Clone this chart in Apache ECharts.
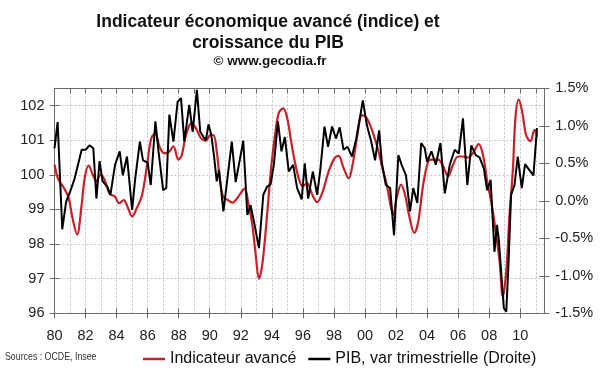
<!DOCTYPE html>
<html><head><meta charset="utf-8">
<script src="https://cdn.jsdelivr.net/npm/echarts@6/dist/echarts.min.js"></script>
<style>html,body{margin:0;padding:0;background:#fff}#c{width:600px;height:372px}</style>
</head><body><div id="c"></div>
<script>
// ---- data ----
const redYears = [1980.0,1980.25,1980.57,1980.9,1981.16,1981.46,1981.74,1981.96,1982.2,1982.45,1982.7,1982.96,1983.2,1983.56,1983.88,1984.16,1984.46,1984.73,1985.0,1985.3,1985.64,1985.95,1986.23,1986.5,1986.76,1987.08,1987.36,1987.66,1987.98,1988.19,1988.47,1988.83,1989.11,1989.43,1989.75,1990.03,1990.24,1990.45,1990.67,1990.88,1991.14,1991.46,1991.78,1992.1,1992.27,1992.46,1992.74,1992.96,1993.17,1993.38,1993.6,1993.81,1994.02,1994.24,1994.45,1994.73,1994.99,1995.24,1995.52,1995.8,1996.0,1996.27,1996.6,1996.92,1997.24,1997.66,1998.05,1998.3,1998.62,1998.95,1999.2,1999.48,1999.8,2000.01,2000.27,2000.55,2000.87,2001.12,2001.4,2001.68,2001.83,2002.04,2002.32,2002.58,2002.83,2003.18,2003.43,2003.75,2004.07,2004.28,2004.71,2005.03,2005.35,2005.67,2005.99,2006.31,2006.63,2006.96,2007.32,2007.6,2007.87,2008.13,2008.39,2008.67,2008.88,2009.1,2009.31,2009.52,2009.69,2009.9,2010.12,2010.37,2010.65,2010.87,2010.95,2011.08];
const redValues = [100.30,99.86,99.65,99.35,98.75,98.28,99.10,99.95,100.27,100.02,99.82,100.0,99.88,99.45,99.38,99.18,99.27,99.05,98.80,99.04,99.42,100.25,101.05,101.2,100.82,100.62,100.66,100.82,100.44,100.56,101.15,101.5,101.35,101.06,100.98,101.15,101.15,100.68,99.81,99.35,99.28,99.2,99.33,99.54,99.6,99.25,98.56,97.69,97.0,97.4,98.36,99.47,100.49,101.26,101.79,101.92,101.64,100.97,100.29,99.8,99.67,99.76,99.43,99.21,99.47,100.1,100.49,100.55,100.2,99.9,100.29,101.06,101.72,101.7,101.5,101.16,100.68,100.2,99.72,99.04,98.85,99.33,99.72,99.43,98.85,98.32,98.65,99.72,100.39,100.44,100.44,100.25,99.96,100.29,100.53,100.53,100.5,100.63,100.89,100.58,99.81,99.23,98.46,97.5,96.48,97.21,98.85,100.1,101.64,102.17,101.84,101.16,100.97,101.26,101.3,101.1];

const pibYears = [1980.0,1980.2,1980.5,1980.75,1981.0,1981.3,1981.75,1982.0,1982.25,1982.5,1982.7,1982.9,1983.1,1983.4,1983.6,1983.9,1984.2,1984.4,1984.67,1985.0,1985.2,1985.5,1985.7,1986.0,1986.2,1986.5,1986.7,1987.0,1987.2,1987.4,1987.66,1987.93,1988.15,1988.36,1988.68,1988.9,1989.17,1989.39,1989.6,1989.75,1989.92,1990.1,1990.28,1990.45,1990.6,1990.88,1991.14,1991.42,1991.67,1991.93,1992.16,1992.42,1992.63,1992.85,1993.17,1993.45,1993.7,1993.92,1994.13,1994.39,1994.62,1994.84,1995.09,1995.37,1995.63,1995.92,1996.12,1996.34,1996.64,1996.92,1997.13,1997.39,1997.62,1997.88,1998.13,1998.37,1998.62,1998.88,1999.16,1999.42,1999.7,1999.86,2000.12,2000.4,2000.65,2000.91,2001.08,2001.34,2001.62,2001.87,2002.15,2002.36,2002.64,2002.9,2003.11,2003.37,2003.62,2003.85,2004.0,2004.28,2004.56,2004.86,2005.14,2005.46,2005.78,2006.04,2006.31,2006.59,2006.85,2007.13,2007.38,2007.66,2007.87,2008.09,2008.34,2008.5,2008.62,2008.77,2008.94,2009.1,2009.24,2009.41,2009.63,2009.84,2010.1,2010.31,2010.59,2010.85,2011.08];
const pibValues = [0.70,1.05,-0.38,-0.01,0.12,0.30,0.68,0.68,0.74,0.70,0.03,0.53,0.26,0.19,0.08,0.48,0.66,0.34,0.59,-0.12,0.30,0.79,0.54,0.51,0.21,1.06,0.66,0.14,0.17,1.15,0.79,1.32,1.37,0.79,1.28,0.92,1.48,0.92,0.85,0.81,1.02,0.88,0.59,0.26,0.41,-0.14,0.30,0.79,0.25,0.54,0.80,-0.19,-0.06,-0.28,-0.63,0.08,0.19,0.22,0.48,1.06,0.66,0.85,0.39,0.48,0.17,0.02,0.50,0.03,0.39,0.08,0.43,0.99,0.72,0.99,0.83,0.98,0.68,0.72,0.59,0.81,1.14,1.34,1.01,0.79,0.54,0.94,0.52,0.21,0.17,-0.46,0.61,0.48,0.34,-0.14,0.17,-0.03,0.77,0.70,0.52,0.66,0.48,0.77,0.10,0.48,0.68,0.63,1.10,0.21,0.74,0.61,0.58,0.43,0.14,0.28,-0.68,-0.32,-0.52,-0.94,-1.43,-1.48,-0.86,0.08,0.21,0.59,0.17,0.49,0.41,0.34,0.97];

const leftTicks = [96,97,98,99,100,101,102];
const rightTicks = [-1.5,-1.0,-0.5,0.0,0.5,1.0,1.5];
const yearTicks = [1980,1982,1984,1986,1988,1990,1992,1994,1996,1998,2000,2002,2004,2006,2008,2010];
const yearLabels = ['80','82','84','86','88','90','92','94','96','98','00','02','04','06','08','10'];
const titleLines = ['Indicateur économique avancé (indice) et','croissance du PIB','© www.gecodia.fr'];
const seriesNames = ['Indicateur avancé','PIB, var trimestrielle (Droite)'];
const sourceText = 'Sources : OCDE, Insee';

// ---- chart ----
const FONT = '"Liberation Sans", Arial, Helvetica, sans-serif';
const AX = '#6b6b6b';
const GRID = '#c4c4c4';
const RED = '#c8202a';
const chart = echarts.init(document.getElementById('c'), null, {renderer:'canvas'});
const near = (a,b)=>Math.abs(a-b)<1e-6;

const baseX = {type:'value', min:1980, max:2011.55, gridIndex:0};
const leftY = {type:'value', min:96, max:102.5, interval:1};
const rightY = {type:'value', min:-1.5, max:1.5, interval:0.5};

chart.setOption({
  backgroundColor:'#fff',
  animation:false,
  textStyle:{fontFamily:FONT},
  grid:{left:54.5, right:55.7, top:88.3, bottom:58.7, containLabel:false},
  graphic:[
    {type:'text', x:268, y:22, style:{text:titleLines[0], font:'bold 17.5px '+FONT, fill:'#111', textAlign:'center', textVerticalAlign:'middle'}},
    {type:'text', x:268, y:43.5, style:{text:titleLines[1], font:'bold 17.5px '+FONT, fill:'#111', textAlign:'center', textVerticalAlign:'middle'}},
    {type:'text', x:270, y:61, style:{text:titleLines[2], font:'bold 13.5px '+FONT, fill:'#111', textAlign:'center', textVerticalAlign:'middle'}},
    {type:'text', x:5, y:357, scaleX:0.8, style:{text:sourceText, font:'11px '+FONT, fill:'#333', textAlign:'left', textVerticalAlign:'middle'}}
  ],
  legend:{
    left:138, top:346, itemGap:12, itemWidth:22, itemHeight:2.5, icon:'rect',
    textStyle:{fontSize:16, color:'#111', fontFamily:FONT},
    data:seriesNames
  },
  xAxis:[
    Object.assign({}, baseX, {position:'bottom', interval:2,
      axisLine:{show:true, onZero:false, lineStyle:{color:AX, width:1}},
      axisTick:{show:true, inside:false, length:5, lineStyle:{color:AX}},
      axisLabel:{show:true, fontSize:14.5, color:'#222', margin:15, showMaxLabel:false,
        formatter:v=>{const i=yearTicks.findIndex(t=>near(t,v)); return i>=0?yearLabels[i]:'';}},
      splitLine:{show:false}}),
    Object.assign({}, baseX, {position:'bottom', interval:2,
      axisLine:{show:false, onZero:false}, axisTick:{show:true, inside:true, length:5, lineStyle:{color:AX}},
      axisLabel:{show:false}, splitLine:{show:false}}),
    Object.assign({}, baseX, {position:'top', interval:1,
      axisLine:{show:true, onZero:false, lineStyle:{color:AX, width:1}},
      axisTick:{show:true, inside:true, length:5, lineStyle:{color:AX}},
      axisLabel:{show:false},
      splitLine:{show:true, lineStyle:{color:GRID, type:[2,2], width:1}}})
  ],
  yAxis:[
    Object.assign({}, leftY, {position:'left',
      axisLine:{show:true, onZero:false, lineStyle:{color:AX, width:1}},
      axisTick:{show:true, inside:false, length:5, lineStyle:{color:AX}},
      axisLabel:{show:true, fontSize:14.5, color:'#222', margin:10, showMaxLabel:false,
        formatter:v=>{const i=leftTicks.findIndex(t=>near(t,v)); return i>=0?String(leftTicks[i]):'';}},
      splitLine:{show:true, lineStyle:{color:GRID, type:[2,2], width:1}}}),
    Object.assign({}, rightY, {position:'right',
      axisLine:{show:true, onZero:false, lineStyle:{color:AX, width:1}},
      axisTick:{show:true, inside:false, length:5, lineStyle:{color:AX}},
      axisLabel:{show:true, fontSize:14.5, color:'#222', margin:11, align:'left',
        formatter:v=>{const i=rightTicks.findIndex(t=>near(t,v)); return i>=0?rightTicks[i].toFixed(1)+'%':'';}},
      splitLine:{show:false}}),
    Object.assign({}, leftY, {position:'left',
      axisLine:{show:false, onZero:false}, axisTick:{show:true, inside:true, length:5, lineStyle:{color:AX}},
      axisLabel:{show:false}, splitLine:{show:false}}),
    Object.assign({}, rightY, {position:'right',
      axisLine:{show:false, onZero:false}, axisTick:{show:true, inside:true, length:5, lineStyle:{color:AX}},
      axisLabel:{show:false}, splitLine:{show:false}})
  ],
  series:[
    {name:seriesNames[0], type:'line', xAxisIndex:0, yAxisIndex:0, smooth:0.35, showSymbol:false,
      lineStyle:{color:RED, width:2.2}, itemStyle:{color:RED}, z:2,
      data:redYears.map((y,i)=>[y, redValues[i]])},
    {name:seriesNames[1], type:'line', xAxisIndex:0, yAxisIndex:1, smooth:false, showSymbol:false,
      lineStyle:{color:'#000', width:2}, itemStyle:{color:'#000'}, z:3,
      data:pibYears.map((y,i)=>[y, pibValues[i]])}
  ]
});
</script>
</body></html>
